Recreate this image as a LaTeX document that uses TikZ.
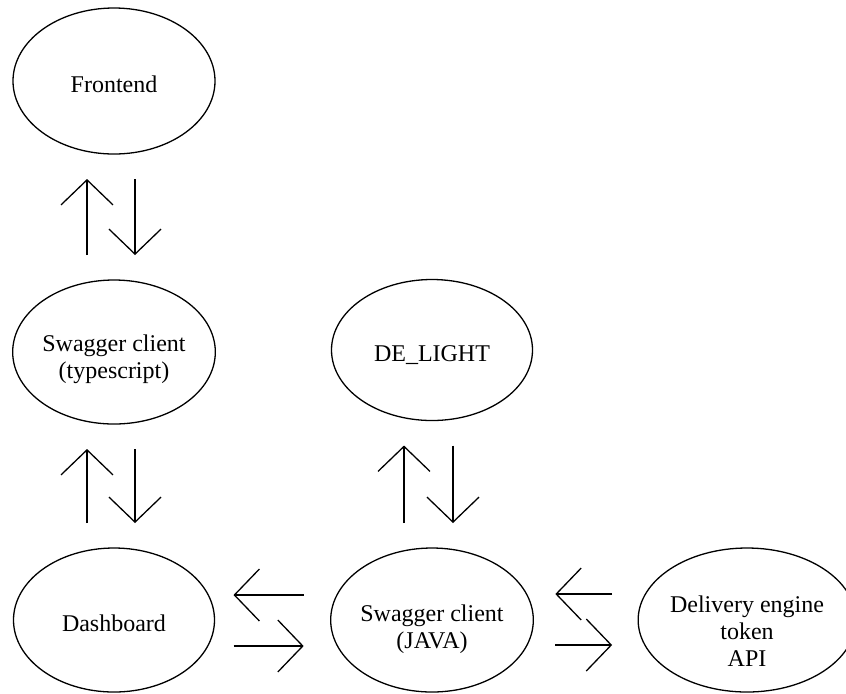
\documentclass[tikz,border=0pt]{standalone}
\usepackage{fontspec}
\setmainfont{Liberation Serif}
\usetikzlibrary{positioning,calc,shapes.geometric,arrows.meta}

\begin{document}
\begin{tikzpicture}
    \def\myunit{0.5pt}
    \tikzstyle{blob}=[ellipse,draw=black,line width=0.65pt,inner sep=0pt,outer sep=0pt,
                      align=center,font=\fontsize{12}{13.5}\selectfont,text height=12pt]
    \tikzstyle{link}=[line width=0.65pt,-{Straight Barb[length=12.5pt,width=26pt]},
                      shorten <=25*\myunit,shorten >=25*\myunit]
    \useasboundingbox (0,0) rectangle (846*\myunit,-693*\myunit);
    % components
    \node[blob,minimum width=202*\myunit,minimum height=146*\myunit] (fe) at (114*\myunit,-81*\myunit) {Frontend};
    \node[blob,minimum width=202*\myunit,minimum height=144*\myunit,text height=29pt] (ts) at (114*\myunit,-352*\myunit) {Swagger client\\(typescript)};
    \node[blob,minimum width=201*\myunit,minimum height=144*\myunit] (db) at (114*\myunit,-620*\myunit) {Dashboard};
    \node[blob,minimum width=201*\myunit,minimum height=141*\myunit,text height=13pt] (de) at (432*\myunit,-350*\myunit) {DE\_LIGHT};
    \node[blob,minimum width=196*\myunit,minimum height=144*\myunit,text height=31pt] (jv) at (432*\myunit,-620*\myunit) {Swagger client\\(JAVA)};
    \node[blob,minimum width=190*\myunit,minimum height=144*\myunit,text height=46pt] (api) at (747*\myunit,-620*\myunit) {Delivery engine\\token\\API};
    % vertical pairs
    \draw[link] ([xshift=-27*\myunit]ts.north) -- ([xshift=-27*\myunit]fe.south);
    \draw[link] ([xshift=21*\myunit]fe.south) -- ([xshift=21*\myunit]ts.north);
    \draw[link] ([xshift=-27*\myunit]db.north) -- ([xshift=-27*\myunit]ts.south);
    \draw[link] ([xshift=21*\myunit]ts.south) -- ([xshift=21*\myunit]db.north);
    \draw[link] ([xshift=-28*\myunit]jv.north) -- ([xshift=-28*\myunit]de.south);
    \draw[link] ([xshift=21*\myunit]de.south) -- ([xshift=21*\myunit]jv.north);
    % horizontal pairs
    \draw[link,shorten <=27*\myunit,shorten >=19*\myunit] ([yshift=25*\myunit]jv.west) -- ([yshift=25*\myunit]db.east);
    \draw[link,shorten <=19*\myunit,shorten >=27*\myunit] ([yshift=-26*\myunit]db.east) -- ([yshift=-26*\myunit]jv.west);
    \draw[link,shorten <=26*\myunit,shorten >=22*\myunit] ([yshift=26*\myunit]api.west) -- ([yshift=26*\myunit]jv.east);
    \draw[link,shorten <=22*\myunit,shorten >=26*\myunit] ([yshift=-25*\myunit]jv.east) -- ([yshift=-25*\myunit]api.west);
\end{tikzpicture}
\end{document}
